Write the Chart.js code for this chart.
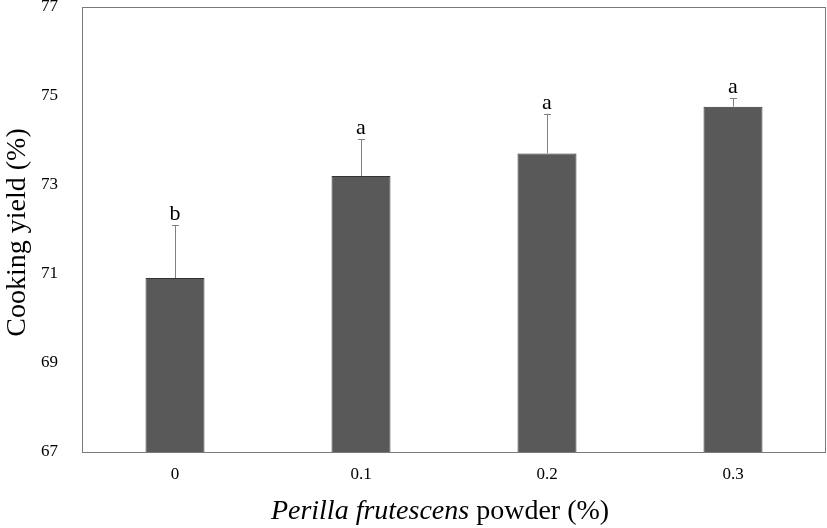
<!DOCTYPE html>
<html>
<head>
<meta charset="utf-8">
<script src="https://cdn.jsdelivr.net/npm/chart.js@4/dist/chart.umd.min.js"></script>
<style>
  html, body { margin: 0; padding: 0; background: #fff; }
  #wrap { width: 827px; height: 528px; }
</style>
</head>
<body>
<div id="wrap"><canvas id="yieldChart"></canvas></div>
<script>
const categories = ["0", "0.1", "0.2", "0.3"];
const means = [70.91, 73.2, 73.71, 74.76];
const errors = [1.19, 0.83, 0.89, 0.19];
const letters = ["b", "a", "a", "a"];
const yTicks = [67, 69, 71, 73, 75, 77];

const serif = "'Liberation Serif', 'Times New Roman', serif";

// error bars, letters, frame and axis titles
const extras = {
  id: "extras",
  afterDatasetsDraw(chart) {
    const ctx = chart.ctx;
    const y = chart.scales.y;
    const meta = chart.getDatasetMeta(0);
    ctx.save();
    meta.data.forEach((bar, i) => {
      const top = y.getPixelForValue(means[i] + errors[i]);
      const base = y.getPixelForValue(means[i]);
      ctx.strokeStyle = "#808080";
      ctx.lineWidth = 1;
      ctx.beginPath();
      ctx.moveTo(Math.round(bar.x) + 0.5, base);
      ctx.lineTo(Math.round(bar.x) + 0.5, top);
      ctx.moveTo(bar.x - 3, Math.round(top) + 0.5);
      ctx.lineTo(bar.x + 4, Math.round(top) + 0.5);
      ctx.stroke();

      ctx.fillStyle = "#000";
      ctx.font = "22px " + serif;
      ctx.textAlign = "center";
      ctx.textBaseline = "alphabetic";
      ctx.fillText(letters[i], bar.x, top - 5);
    });

    const a = chart.chartArea;
    ctx.strokeStyle = "#7a7a7a";
    ctx.lineWidth = 1;
    ctx.strokeRect(a.left + 0.5, a.top + 0.5, a.right - a.left - 1, a.bottom - a.top);

    ctx.fillStyle = "#000";
    ctx.font = "28px " + serif;
    ctx.save();
    ctx.translate(18, (a.top + a.bottom) / 2 + 3);
    ctx.rotate(-Math.PI / 2);
    ctx.textAlign = "center";
    ctx.textBaseline = "middle";
    ctx.fillText("Cooking yield (%)", 0, 0);
    ctx.restore();

    const italic = "Perilla frutescens";
    const plain = " powder (%)";
    ctx.font = "italic 28px " + serif;
    const w1 = ctx.measureText(italic).width;
    ctx.font = "28px " + serif;
    const w2 = ctx.measureText(plain).width;
    const startX = 440 - (w1 + w2) / 2;
    ctx.textAlign = "left";
    ctx.textBaseline = "alphabetic";
    ctx.font = "italic 28px " + serif;
    ctx.fillText(italic, startX, 519);
    ctx.font = "28px " + serif;
    ctx.fillText(plain, startX + w1, 519);
    ctx.restore();
  }
};

new Chart(document.getElementById("yieldChart"), {
  type: "bar",
  data: {
    labels: categories,
    datasets: [{
      data: means,
      backgroundColor: "#595959",
      borderColor: "#333333",
      borderWidth: 1,
      barPercentage: 0.317,
      categoryPercentage: 1
    }]
  },
  options: {
    responsive: true,
    maintainAspectRatio: false,
    animation: false,
    layout: { padding: { top: 7, right: 1, left: 0, bottom: 0 } },
    plugins: {
      legend: { display: false },
      tooltip: { enabled: false }
    },
    scales: {
      x: {
        grid: { display: false, drawTicks: false },
        border: { display: false },
        ticks: {
          color: "#000",
          font: { family: serif, size: 17 },
          padding: 12
        },
        afterFit(scale) {
          scale.height = 76;
          scale.paddingLeft = 0;
          scale.paddingRight = 0;
        }
      },
      y: {
        min: 67,
        max: 77,
        grid: { display: false, drawTicks: false },
        border: { display: false },
        afterBuildTicks(scale) {
          scale.ticks = yTicks.map(v => ({ value: v }));
        },
        ticks: {
          color: "#000",
          font: { family: serif, size: 17 },
          padding: 24
        },
        afterFit(scale) {
          scale.width = 82;
          scale.paddingTop = 0;
          scale.paddingBottom = 0;
        }
      }
    }
  },
  plugins: [extras]
});
</script>
</body>
</html>
